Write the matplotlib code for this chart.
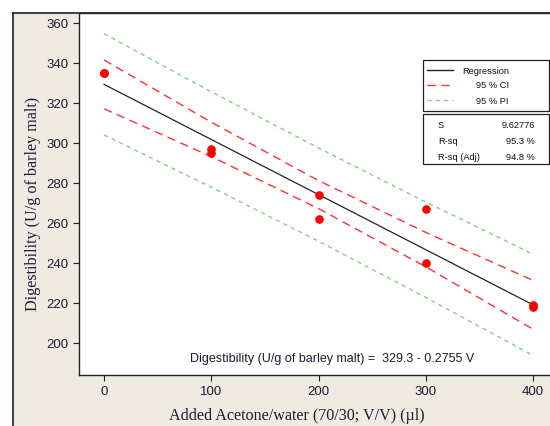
import numpy as np
import matplotlib.pyplot as plt
from matplotlib.patches import Rectangle
from matplotlib.lines import Line2D

# Data
volume = [0, 0, 100, 100, 200, 200, 300, 300, 400, 400]
digest = [335, 335, 297, 295, 274, 262, 267, 240, 219, 218]

band_x = [0, 100, 200, 300, 400]
fit_y = [329.3, 301.75, 274.2, 246.65, 219.1]
ci_upper = [341.5, 310.4, 281.2, 255.3, 231.3]
ci_lower = [317.1, 293.2, 267.2, 238.1, 206.9]
pi_upper = [354.6, 325.6, 297.5, 270.5, 244.4]
pi_lower = [304.0, 277.9, 250.9, 222.8, 193.8]

y_ticks = [200, 220, 240, 260, 280, 300, 320, 340, 360]
x_ticks = [0, 100, 200, 300, 400]

W, H = 550, 427
BEIGE = '#efebe1'
TICK_COL = '#1c1c30'

def fx(px):
    return px / W

def fy(py):
    return 1 - py / H

fig = plt.figure(figsize=(W / 100, H / 100), dpi=100, facecolor='white')

# beige panel with frame
fig.patches.append(Rectangle((fx(13), 0), 1 - fx(13), fy(14), transform=fig.transFigure,
                             facecolor=BEIGE, edgecolor='none', zorder=-2))
fig.lines.append(Line2D([fx(13), fx(13)], [0, fy(14)], transform=fig.transFigure,
                        color='#222222', lw=1.2, zorder=-1))
fig.lines.append(Line2D([fx(13), 1], [fy(14), fy(14)], transform=fig.transFigure,
                        color='#222222', lw=1.2, zorder=-1))

ax = fig.add_axes([fx(79), fy(376), 1 - fx(79) + 0.01, fy(14) - fy(376)])
ax.set_facecolor('white')
ax.set_xlim(-23.4, 421)
ax.set_ylim(184, 365)

ax.plot(band_x, pi_upper, color='#80d080', lw=1.0, dashes=(3, 3))
ax.plot(band_x, pi_lower, color='#80d080', lw=1.0, dashes=(3, 3))
ax.plot(band_x, ci_upper, color='#ff3030', lw=1.0, dashes=(6, 4))
ax.plot(band_x, ci_lower, color='#ff3030', lw=1.0, dashes=(6, 4))
ax.plot(band_x, fit_y, color='#222222', lw=0.9)
ax.plot(volume, digest, 'o', color='#ff0000', ms=5.2, zorder=5)

ax.set_xticks(x_ticks)
ax.set_yticks(y_ticks)
ax.tick_params(direction='out', length=4, width=0.8, colors='#222222',
               labelcolor=TICK_COL, labelsize=9.5)
for lab in ax.get_xticklabels() + ax.get_yticklabels():
    lab.set_fontfamily('Liberation Sans')
ax.spines['right'].set_visible(False)
for s in ['left', 'bottom', 'top']:
    ax.spines[s].set_color('#222222')
    ax.spines[s].set_linewidth(1.0)

fig.text(fx(332), fy(359), 'Digestibility (U/g of barley malt) =  329.3 - 0.2755 V',
         ha='center', va='center', fontsize=9, family='Liberation Sans', color='#1c1c30')

# axis labels
fig.text(fx(297), fy(416), 'Added Acetone/water (70/30; V/V) (\u00b5l)', ha='center', va='center',
         fontsize=11.6, family='Liberation Serif', color='#1c1c30')
fig.text(fx(33), fy(204), 'Digestibility (U/g of barley malt)', ha='center', va='center',
         rotation=90, fontsize=11.6, family='Liberation Serif', color='#1c1c30')

# legend box
fig.patches.append(Rectangle((fx(423), fy(112)), fx(549) - fx(423), fy(61) - fy(112),
                             transform=fig.transFigure, facecolor='white',
                             edgecolor='#222222', lw=0.9, zorder=6))
legend_rows = [('Regression', '#222222', None, 71),
               ('95 % CI', '#ff3030', (6, 4), 86),
               ('95 % PI', '#80d080', (3, 3), 101)]
for label, col, dash, ry in legend_rows:
    ln = Line2D([fx(427), fx(453)], [fy(ry), fy(ry)], transform=fig.transFigure,
                color=col, lw=1.0, zorder=7)
    if dash:
        ln.set_dashes(dash)
    fig.lines.append(ln)
    fig.text(fx(509), fy(ry), label, ha='right', va='center', fontsize=6.7,
             family='Liberation Sans', color='#111111', zorder=7)

# stats box
fig.patches.append(Rectangle((fx(423), fy(165)), fx(549) - fx(423), fy(115) - fy(165),
                             transform=fig.transFigure, facecolor='white',
                             edgecolor='#222222', lw=0.9, zorder=6))
stats_rows = [('S', '9.62776', 125), ('R-sq', '95.3 %', 142), ('R-sq (Adj)', '94.8 %', 158)]
for name, val, ry in stats_rows:
    fig.text(fx(438), fy(ry), name, ha='left', va='center', fontsize=6.7,
             family='Liberation Sans', color='#111111', zorder=7)
    fig.text(fx(535), fy(ry), val, ha='right', va='center', fontsize=6.7,
             family='Liberation Sans', color='#111111', zorder=7)

fig.savefig('out.png', dpi=100, facecolor='white')
